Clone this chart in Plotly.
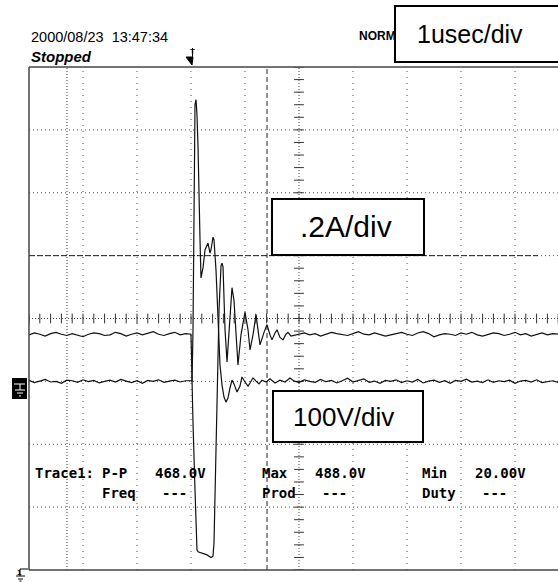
import numpy as np
import plotly.graph_objects as go

# ---------------- data ----------------
# time in microseconds relative to trigger, ch1 = voltage (V), ch2 = current (A)
t_pre = np.round(np.arange(-3.0, -0.05, 0.1), 2)   # scope sample clock, 30 samples
v_pre = [374, 377, 375, 372, 376, 378, 375, 373, 376, 374,
         371, 375, 377, 376, 373, 374, 378, 376, 372, 375,
         377, 374, 376, 379, 375, 373, 376, 378, 374, 376]
i_pre = [0.003, -0.004, 0.001, 0.006, -0.002, 0.000, -0.006, 0.004, 0.002, -0.003,
         0.005, -0.001, 0.003, -0.005, 0.000, 0.004, -0.002, 0.006, 0.001, -0.004,
         0.002, -0.006, 0.003, 0.000, 0.005, -0.003, 0.001, 0.004, -0.002, 0.002]

t_evt_v = [0.0, 0.019, 0.037, 0.074, 0.111, 0.130, 0.204, 0.296, 0.370, 0.407,
           0.426, 0.463, 0.481, 0.519, 0.556, 0.574, 0.593, 0.630, 0.667, 0.704,
           0.759, 0.796, 0.833, 0.870, 0.926, 1.000, 1.056, 1.093, 1.148, 1.204,
           1.241, 1.278, 1.352, 1.407, 1.463, 1.500, 1.556, 1.593, 1.648, 1.704,
           1.759, 1.796, 1.852]
v_evt = [375, 270, 234, 127, 32, 29, 27, 24, 20, 22,
         43, 180, 286, 414, 484, 488, 482, 382, 331, 382,
         449, 429, 366, 326, 374, 410, 382, 350, 374, 406,
         382, 358, 378, 390, 374, 366, 377, 382, 370, 366,
         375, 378, 372]

t_evt_i = [0.0, 0.019, 0.037, 0.056, 0.074, 0.093, 0.111, 0.130, 0.148, 0.167,
           0.185, 0.222, 0.259, 0.296, 0.315, 0.352, 0.370, 0.407, 0.426, 0.463,
           0.500, 0.537, 0.574, 0.611, 0.648, 0.685, 0.722, 0.759, 0.796, 0.852,
           0.907, 0.944, 1.000, 1.056, 1.093, 1.148, 1.204, 1.259, 1.315, 1.389,
           1.463, 1.556, 1.648, 1.741, 1.833]
i_evt = [0.002, 0.000, 0.163, 0.641, 0.880, 0.896, 0.848, 0.746, 0.555, 0.450,
         0.329, 0.361, 0.418, 0.434, 0.440, 0.408, 0.418, 0.459, 0.450, 0.354,
         0.195, 0.052, -0.011, -0.050, -0.066, -0.053, -0.021, 0.004, -0.008, -0.034,
         -0.015, 0.014, -0.002, -0.015, -0.005, 0.011, 0.001, -0.008, 0.004, -0.002,
         0.008, -0.005, 0.004, -0.002, 0.011]

t_post = np.round(np.arange(1.9, 6.85, 0.1), 2)     # scope sample clock, 50 samples
v_post = [373, 375, 377, 374, 376, 372, 375, 378, 376, 374,
          373, 376, 379, 375, 374, 377, 375, 372, 374, 376,
          378, 375, 373, 377, 379, 376, 371, 374, 376, 375,
          373, 377, 375, 378, 374, 372, 375, 377, 376, 373,
          375, 378, 374, 376, 372, 375, 377, 374, 376, 375]
i_post = [0.002, -0.004, 0.005, 0.000, -0.003, 0.006, -0.001, 0.003, -0.005, 0.002,
          0.010, -0.002, 0.004, 0.008, -0.003, 0.001, -0.006, 0.003, 0.000, 0.005,
          -0.004, 0.002, -0.002, 0.006, -0.005, 0.001, 0.004, -0.003, 0.002, -0.006,
          0.003, 0.000, 0.007, -0.002, 0.001, -0.004, 0.005, -0.003, 0.002, -0.001,
          0.004, -0.006, 0.001, 0.003, -0.002, 0.005, -0.004, 0.000, 0.002, -0.003]

header_date = "2000/08/23  13:47:34"
header_state = "Stopped"
header_mode = "NORM"
label_time = "1usec/div"
label_cur = ".2A/div"
label_volt = "100V/div"
meas_row1 = [("Trace1:", 33), ("P-P", 100), ("468.0V", 153), ("Max", 260),
             ("488.0V", 313), ("Min", 420), ("20.00V", 473)]
meas_row2 = [("Freq", 100), ("---", 160), ("Prod", 260), ("---", 320),
             ("Duty", 420), ("---", 480)]

# scope settings
V_PER_DIV = 100.0
A_PER_DIV = 0.2
US_PER_DIV = 1.0
TRIG_DIV = 3.0
CH1_GND = -4.0
CH2_GND = -1.0

# ---------------- geometry ----------------
W, H = 558, 582
L, T, B, R = 29, 67, 570, 558
DIV_X = 54.0
DIV_Y = (B - T) / 8.0
XMAX = (R - L) / DIV_X


def px(x):
    return (x - L) / (R - L)


def py(y):
    return (B - y) / (B - T)


def xd(x):
    return (x - L) / DIV_X


t_v = np.concatenate([t_pre, t_evt_v, t_post])
v_all = np.concatenate([v_pre, v_evt, v_post])
t_i = np.concatenate([t_pre, t_evt_i, t_post])
i_all = np.concatenate([i_pre, i_evt, i_post])

fig = go.Figure()

# centre cross tick marks
tick_x = np.round(np.arange(0, 10.01, 0.2), 2)
tick_y = np.round(np.arange(-4, 4.01, 0.2), 2)
fig.add_trace(go.Scatter(x=tick_x, y=np.zeros_like(tick_x), mode="markers",
                         marker=dict(symbol="line-ns-open", size=7, color="#333",
                                     line=dict(width=1, color="#333")),
                         hoverinfo="skip"))
fig.add_trace(go.Scatter(x=np.full_like(tick_y, 5.0), y=tick_y, mode="markers",
                         marker=dict(symbol="line-ew-open", size=7, color="#333",
                                     line=dict(width=1, color="#333")),
                         hoverinfo="skip"))

# waveforms
fig.add_trace(go.Scatter(x=t_v / US_PER_DIV + TRIG_DIV, y=v_all / V_PER_DIV + CH1_GND,
                         mode="lines", line=dict(color="#111", width=1.2),
                         name="Voltage"))
fig.add_trace(go.Scatter(x=t_i / US_PER_DIV + TRIG_DIV, y=i_all / A_PER_DIV + CH2_GND,
                         mode="lines", line=dict(color="#111", width=1.2),
                         name="Current"))

shapes = []
# grid
for k in range(1, 10):
    if k == 5:
        continue
    shapes.append(dict(type="line", xref="x", yref="y", x0=k, x1=k, y0=-4, y1=4,
                       line=dict(color="#555", width=1, dash="1px,5px"), layer="below"))
for j in range(-3, 4):
    if j == 0:
        continue
    shapes.append(dict(type="line", xref="x", yref="y", x0=0, x1=10, y0=j, y1=j,
                       line=dict(color="#555", width=1, dash="1px,3px"), layer="below"))
shapes.append(dict(type="line", xref="x", yref="y", x0=0, x1=10, y0=0, y1=0,
                   line=dict(color="#444", width=1, dash="1px,2px"), layer="below"))
shapes.append(dict(type="line", xref="x", yref="y", x0=5, x1=5, y0=-4, y1=4,
                   line=dict(color="#444", width=1, dash="1px,2px"), layer="below"))
# cursors
shapes.append(dict(type="line", xref="x", yref="y", x0=xd(67), x1=xd(67), y0=-4, y1=4,
                   line=dict(color="#333", width=1, dash="1px,2px"), layer="below"))
shapes.append(dict(type="line", xref="x", yref="y", x0=xd(267), x1=xd(267), y0=-4, y1=4,
                   line=dict(color="#222", width=1, dash="5px,3px"), layer="below"))
shapes.append(dict(type="line", xref="x", yref="y", x0=0, x1=xd(538), y0=1, y1=1,
                   line=dict(color="#222", width=1, dash="6px,2px"), layer="below"))
# border
for (x0, y0, x1, y1) in [(0, 0, 0, 1), (0, 1, 1, 1), (0, 0, 1, 0)]:
    shapes.append(dict(type="line", xref="paper", yref="paper", x0=x0, y0=y0, x1=x1, y1=y1,
                       line=dict(color="#444", width=1.5)))
# trigger marker
shapes.append(dict(type="line", xref="paper", yref="paper", x0=px(192.5), x1=px(192.5),
                   y0=py(48), y1=py(60), line=dict(color="black", width=1)))
shapes.append(dict(type="path", xref="paper", yref="paper",
                   path=f"M {px(186)} {py(57)} L {px(193)} {py(57)} L {px(192)} {py(65)} Z",
                   fillcolor="black", line=dict(color="black", width=1)))
# ch2 ground marker
shapes.append(dict(type="rect", xref="paper", yref="paper", x0=px(12), x1=px(27),
                   y0=py(399), y1=py(378), fillcolor="black", line=dict(width=0)))
for (x0, y0, x1, y1) in [(14, 384, 25, 384), (20, 384, 20, 390), (15, 390, 25, 390),
                         (17, 393, 23, 393), (19, 396, 21, 396)]:
    shapes.append(dict(type="line", xref="paper", yref="paper", x0=px(x0), x1=px(x1),
                       y0=py(y0), y1=py(y1), line=dict(color="white", width=1)))
# ch1 ground marker
for (x0, y0, x1, y1) in [(20, 569, 28, 569), (20, 569, 20, 576), (16, 576, 25, 576),
                         (18, 579, 23, 579), (19.5, 581, 21.5, 581)]:
    shapes.append(dict(type="line", xref="paper", yref="paper", x0=px(x0), x1=px(x1),
                       y0=py(y0), y1=py(y1), line=dict(color="black", width=1)))

ann = []


def text(s, x, y, size, family="Liberation Sans, Arial, sans-serif", xanchor="left",
         bold=False, italic=False):
    if bold:
        s = f"<b>{s}</b>"
    if italic:
        s = f"<i>{s}</i>"
    ann.append(dict(text=s, x=px(x), y=py(y), xref="paper", yref="paper",
                    xanchor=xanchor, yanchor="middle", showarrow=False,
                    font=dict(family=family, size=size, color="black")))


def box(x0, y0, x1, y1):
    ann.append(dict(text=" ", x=px(x0), y=py(y0), xref="paper", yref="paper",
                    xanchor="left", yanchor="top", showarrow=False,
                    width=x1 - x0 - 4, height=y1 - y0 - 4, borderpad=0,
                    bgcolor="white", bordercolor="black", borderwidth=2,
                    font=dict(size=10)))


text(header_date, 29, 37, 14.5)
text(header_state, 29, 57, 15, bold=True, italic=True)
text("T", 187.5, 52, 8, bold=True)
text("1", 15, 572, 8, bold=True)
text(header_mode, 357, 36, 12, bold=True)
box(394, 5, 562, 63)
text(label_time, 470, 34, 25, xanchor="center")
box(271, 198, 425, 256)
text(label_cur, 346, 226, 30, xanchor="center")
box(272, 390, 424, 443)
text(label_volt, 343, 417, 26, xanchor="center")

mono = "DejaVu Sans Mono, monospace"
for s, x in meas_row1:
    text(s, x, 473, 14, family=mono, bold=True)
for s, x in meas_row2:
    text(s, x, 493, 14, family=mono, bold=True)

fig.update_layout(
    width=W, height=H,
    margin=dict(l=L, r=W - R, t=T, b=H - B, pad=0, autoexpand=False),
    paper_bgcolor="white", plot_bgcolor="white",
    showlegend=False,
    xaxis=dict(range=[0, XMAX], visible=False, fixedrange=True),
    yaxis=dict(range=[-4, 4], visible=False, fixedrange=True),
    shapes=shapes, annotations=ann,
)

fig.write_html("out.html",
               config={"displayModeBar": False, "staticPlot": True},
               post_script="document.body.style.margin='0px';"
                           "document.body.style.overflow='hidden';")
